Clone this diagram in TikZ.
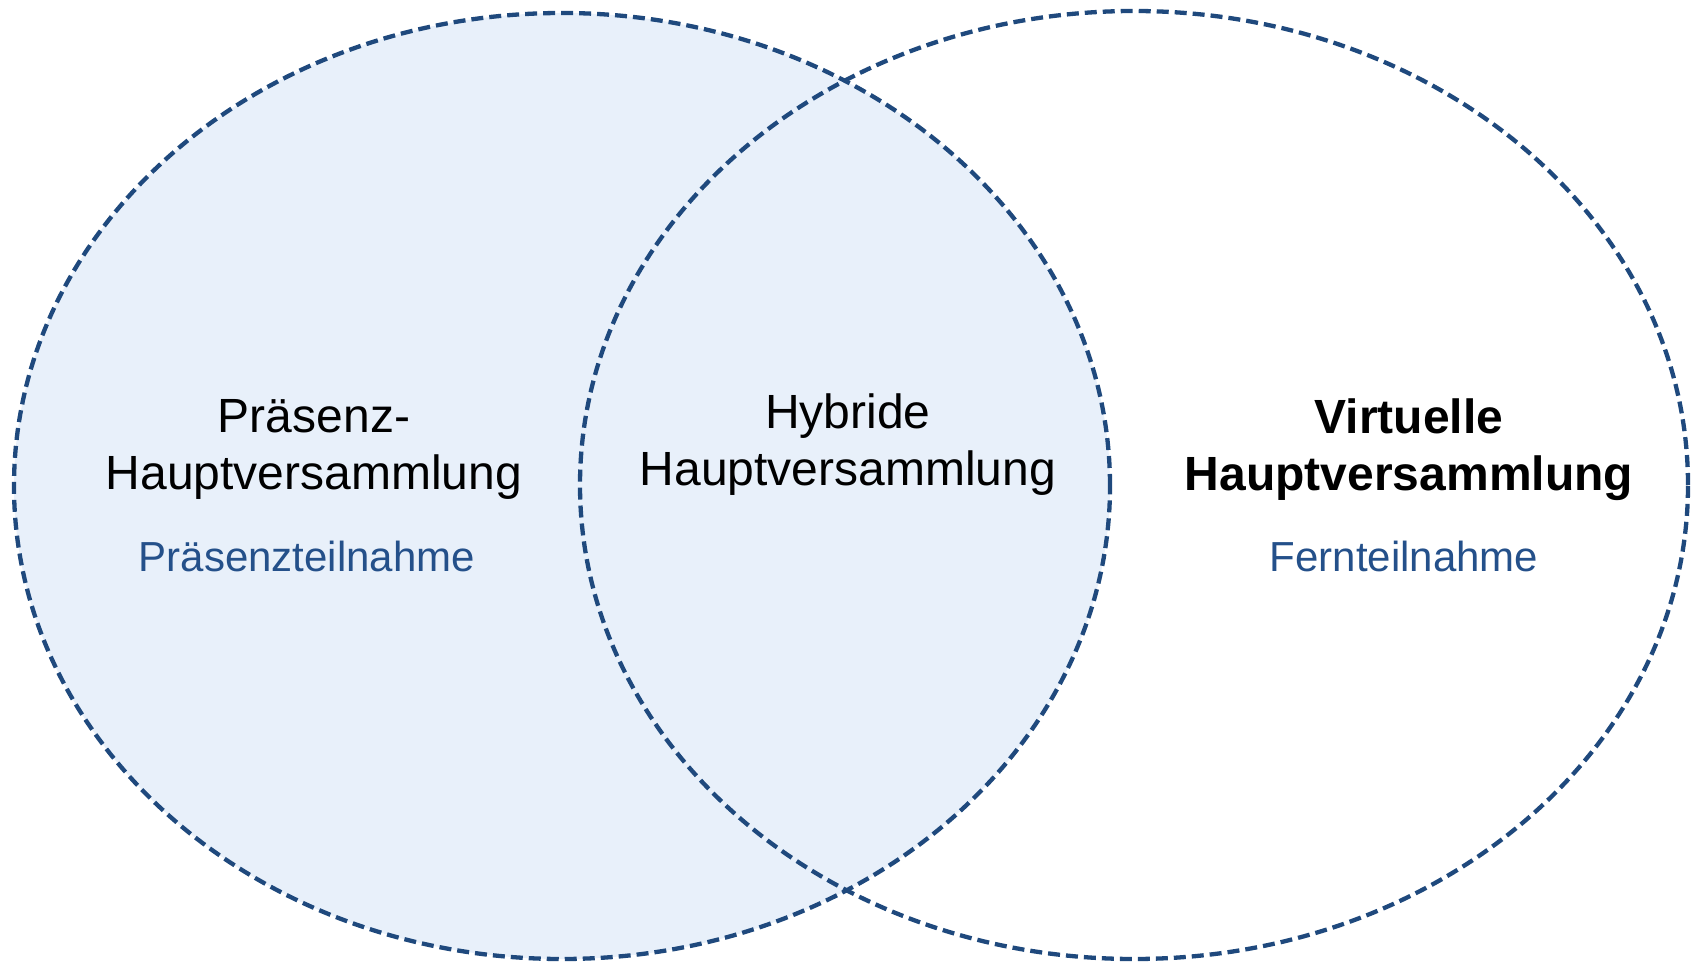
\documentclass[tikz,border=0pt]{standalone}
\usepackage{fontspec}
\setmainfont{Liberation Sans}
\definecolor{hvline}{HTML}{1F497D}
\definecolor{hvfill}{HTML}{E8F0FA}
\definecolor{hvtext}{HTML}{24508A}
\begin{document}
\begin{tikzpicture}[x=1pt,y=1pt,
  rim/.style={draw=hvline,line width=4.3pt,dash pattern=on 12pt off 6pt},
  title/.style={align=center,font=\fontsize{48}{57}\selectfont},
  mode/.style={text=hvtext,font=\fontsize{42}{50}\selectfont}]
\useasboundingbox (0,0) rectangle (1694,962);
\fill[hvfill](562,476) ellipse[x radius=548,y radius=473];
\draw[rim](562,476) ellipse[x radius=548,y radius=473];
\draw[rim](1134,477) ellipse[x radius=554,y radius=474];
\node[title](praesenz) at (314,513) {Präsenz-\\Hauptversammlung};
\node[mode](praesenzteil) at (307,406) {Präsenzteilnahme};
\node[title](hybrid) at (848,517) {Hybride\\Hauptversammlung};
\node[title,font=\fontsize{48}{57}\selectfont\bfseries](virtuell) at (1409,512) {Virtuelle\\Hauptversammlung};
\node[mode](fernteil) at (1404,406) {Fernteilnahme};
\end{tikzpicture}
\end{document}
